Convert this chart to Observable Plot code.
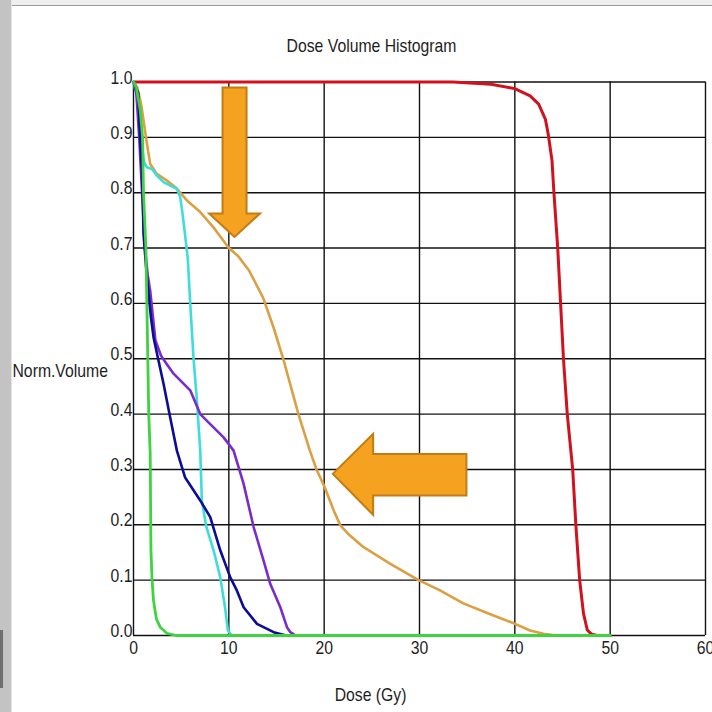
<!DOCTYPE html>
<html>
<head>
<meta charset="utf-8">
<script src="https://cdn.jsdelivr.net/npm/d3@7"></script>
<script src="https://cdn.jsdelivr.net/npm/@observablehq/plot@0.6"></script>
<style>
  html, body { margin: 0; padding: 0; background: #fff; width: 712px; height: 712px; overflow: hidden; }
  #chart { position: absolute; left: 0; top: 0; }
  .strip-top { position: absolute; left: 0; top: 0; width: 712px; height: 5px; background: #efefef; border-bottom: 1px solid #9a9a9a; }
  .strip-left { position: absolute; left: 0; top: 0; width: 11px; height: 712px; background: #c3c3c3; border-right: 1px solid #e4e4e4; }
  .strip-mark { position: absolute; left: 0; top: 630px; width: 3px; height: 58px; background: #6f6f6f; }
</style>
</head>
<body>
<div id="chart"></div>
<div class="strip-top"></div>
<div class="strip-left"></div>
<div class="strip-mark"></div>
<script>
// ---- Data ----
const xTicks = [0, 10, 20, 30, 40, 50, 60];
const yTicks = [0, 0.1, 0.2, 0.3, 0.4, 0.5, 0.6, 0.7, 0.8, 0.9, 1.0];

const titleText = "Dose Volume Histogram";
const xLabel = "Dose (Gy)";
const yLabel = "Norm.Volume";

const redDose = [0, 33.5, 37.5, 40, 41.6, 42.5, 43.2, 43.5, 43.9, 44.1, 44.5, 44.8, 45.1, 45.5, 46.07, 46.4, 46.8, 47.2, 47.6, 48.0, 48.6, 50];
const redVol  = [1, 1, 0.996, 0.988, 0.975, 0.96, 0.933, 0.906, 0.858, 0.8, 0.7, 0.6, 0.5, 0.4, 0.3, 0.2, 0.1, 0.04, 0.01, 0.003, 0, 0];

const orangeDose = [0, 0.4, 0.8, 1.1, 1.35, 1.75, 2.45, 3.5, 4.4, 5.6, 7.0, 8.5, 10.0, 11.0, 12.1, 13.6, 14.7, 15.7, 16.5, 17.3, 18.5, 19.2, 20.0, 20.6, 21.0, 21.7, 22.5, 24.1, 26.9, 29.9, 32.0, 34.6, 37.5, 39.9, 41.6, 43.0, 44.4];
const orangeVol  = [1, 0.99, 0.96, 0.925, 0.895, 0.852, 0.834, 0.822, 0.81, 0.786, 0.765, 0.735, 0.70, 0.685, 0.66, 0.61, 0.556, 0.5, 0.45, 0.40, 0.334, 0.30, 0.27, 0.244, 0.226, 0.199, 0.184, 0.16, 0.13, 0.1, 0.083, 0.058, 0.038, 0.022, 0.009, 0.003, 0];

const cyanDose = [0, 0.4, 0.8, 1.1, 1.4, 1.93, 2.45, 3.15, 3.85, 4.55, 4.9, 5.1, 5.4, 5.7, 5.95, 6.3, 6.65, 7.0, 7.17, 7.63, 8.4, 9.1, 9.6, 9.9, 10.3];
const cyanVol  = [1, 0.97, 0.9, 0.855, 0.846, 0.843, 0.831, 0.819, 0.813, 0.807, 0.792, 0.768, 0.725, 0.68, 0.6, 0.5, 0.425, 0.334, 0.244, 0.197, 0.154, 0.105, 0.051, 0.009, 0];

const purpleDose = [0, 0.3, 0.6, 0.9, 1.2, 1.5, 1.75, 2.3, 2.9, 3.5, 4.2, 5.95, 7.0, 8.05, 9.45, 10.5, 11.55, 12.6, 13.65, 14.35, 15.4, 16.1, 16.45, 17];
const purpleVol  = [1, 0.98, 0.9, 0.8, 0.7, 0.65, 0.623, 0.533, 0.505, 0.49, 0.473, 0.443, 0.40, 0.382, 0.358, 0.334, 0.274, 0.196, 0.135, 0.093, 0.051, 0.015, 0.006, 0];

const navyDose = [0, 0.5, 0.7, 0.88, 0.98, 1.05, 1.3, 1.5, 1.83, 2.1, 2.62, 3.15, 3.85, 4.55, 5.4, 7.0, 8.05, 9.1, 10.15, 10.85, 11.55, 12.95, 14.7, 16, 25];
const navyVol  = [1, 0.98, 0.9, 0.84, 0.787, 0.726, 0.67, 0.63, 0.575, 0.539, 0.497, 0.455, 0.394, 0.334, 0.286, 0.244, 0.214, 0.154, 0.105, 0.081, 0.051, 0.021, 0.006, 0, 0];

const greenDose = [0, 0.3, 0.7, 0.95, 1.05, 1.3, 1.4, 1.5, 1.6, 1.75, 1.83, 1.95, 2.1, 2.4, 2.8, 3.5, 4.5, 50];
const greenVol  = [1, 0.99, 0.95, 0.9, 0.8, 0.7, 0.6, 0.5, 0.4, 0.33, 0.154, 0.1, 0.063, 0.03, 0.015, 0.004, 0, 0];

const arrowDownTip = [{dose: 10.6, vol: 0.72}];
const arrowLeftTip = [{dose: 20.9, vol: 0.292}];

// ---- Build tables ----
const toRows = (xs, ys) => xs.map((d, i) => ({dose: d, vol: ys[i]}));
const series = [
  {rows: toRows(redDose, redVol), color: "#d0121e", w: 3},
  {rows: toRows(orangeDose, orangeVol), color: "#dba043", w: 2.6},
  {rows: toRows(cyanDose, cyanVol), color: "#3fdcdc", w: 2.6},
  {rows: toRows(purpleDose, purpleVol), color: "#7a2cc8", w: 2.6},
  {rows: toRows(navyDose, navyVol), color: "#0c0c96", w: 2.6},
  {rows: toRows(greenDose, greenVol), color: "#3fd33f", w: 2.8}
];

// custom block-arrow symbols (tip at the anchor point)
const arrowDownSymbol = {
  draw(ctx) {
    ctx.moveTo(0, 0);
    ctx.lineTo(-25.5, -23.5);
    ctx.lineTo(-12, -23.5);
    ctx.lineTo(-12, -149.5);
    ctx.lineTo(12, -149.5);
    ctx.lineTo(12, -23.5);
    ctx.lineTo(25.5, -23.5);
    ctx.closePath();
  }
};
const arrowLeftSymbol = {
  draw(ctx) {
    ctx.moveTo(0, 0);
    ctx.lineTo(40.4, -40);
    ctx.lineTo(40.4, -20);
    ctx.lineTo(133.7, -20);
    ctx.lineTo(133.7, 21.7);
    ctx.lineTo(40.4, 21.7);
    ctx.lineTo(40.4, 41);
    ctx.closePath();
  }
};

const FONT = "'Liberation Sans', Arial, sans-serif";
const TXT = "#1e1e1e";
const NARROW = 0.83;

const plot = Plot.plot({
  width: 712,
  height: 712,
  marginLeft: 133,
  marginRight: 7,
  marginTop: 81.5,
  marginBottom: 77,
  style: {background: "transparent", fontFamily: FONT, fontSize: "19px", color: TXT, overflow: "visible"},
  x: {domain: [0, 60], axis: null},
  y: {domain: [0, 1], axis: null},
  marks: [
    Plot.ruleX(xTicks, {x: d => d, stroke: "#111", strokeWidth: 1.4}),
    Plot.ruleY(yTicks, {y: d => d, stroke: "#111", strokeWidth: 1.4}),
    ...series.map(s => Plot.line(s.rows, {x: "dose", y: "vol", stroke: s.color, strokeWidth: s.w, strokeLinejoin: "round", strokeLinecap: "round"})),
    Plot.dot(arrowDownTip, {x: "dose", y: "vol", symbol: arrowDownSymbol, fill: "#f4a21f", stroke: "#c27c14", strokeWidth: 2}),
    Plot.dot(arrowLeftTip, {x: "dose", y: "vol", symbol: arrowLeftSymbol, fill: "#f4a21f", stroke: "#c27c14", strokeWidth: 2}),
    Plot.text(yTicks, {y: d => d, frameAnchor: "left", text: d => d.toFixed(1), textAnchor: "end", dx: -1, dy: -4.5, fill: TXT, fontSize: 19}),
    Plot.text(xTicks, {x: d => d, frameAnchor: "bottom", text: d => String(d), lineAnchor: "top", dy: 5, fill: TXT, fontSize: 19}),
    Plot.text([titleText], {frameAnchor: "top", text: d => d, lineAnchor: "bottom", dx: -48, dy: -30, fill: TXT, fontSize: 19}),
    Plot.text([xLabel], {frameAnchor: "bottom", text: d => d, lineAnchor: "top", dx: -49, dy: 52, fill: TXT, fontSize: 19}),
    Plot.text([yLabel], {frameAnchor: "left", text: d => d, textAnchor: "start", dx: -121, dy: 12, fill: TXT, fontSize: 19})
  ]
});

// condense the text horizontally around each text's own anchor (narrow UI font look)
d3.select(plot).selectAll("text").each(function () {
  const t = this.getAttribute("transform");
  if (t) {
    this.setAttribute("transform", t + ` scale(${NARROW},1)`);
  } else {
    const x = +(this.getAttribute("x") || 0);
    this.setAttribute("transform", `translate(${x},0) scale(${NARROW},1) translate(${-x},0)`);
  }
});

document.getElementById("chart").appendChild(plot);
</script>
</body>
</html>
